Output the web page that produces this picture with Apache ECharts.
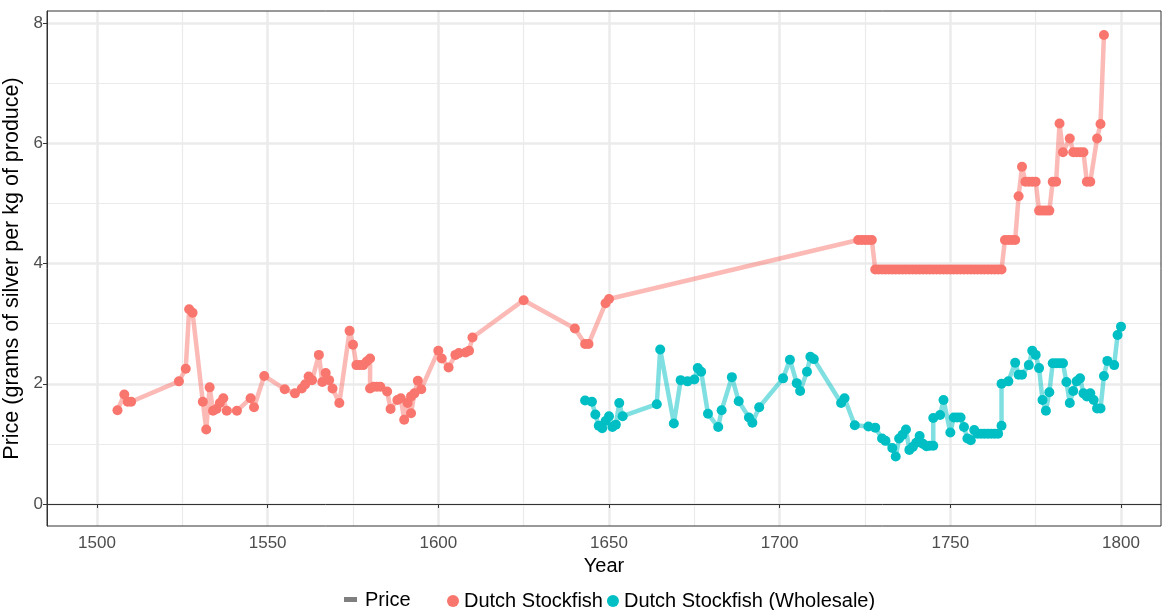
<!DOCTYPE html>
<html>
<head>
<meta charset="utf-8">
<script src="https://cdn.jsdelivr.net/npm/echarts@6.0.0/dist/echarts.min.js"></script>
<style>
  html, body { margin: 0; padding: 0; background: #fff; }
  #chart { width: 1162px; height: 610px; }
</style>
</head>
<body>
<div id="chart"></div>
<script>
// Dutch Stockfish (retail) prices
const stockYears = [1506, 1508, 1509, 1510, 1524, 1526, 1527, 1528, 1531, 1532, 1533, 1534, 1535, 1536, 1537, 1538, 1541, 1545, 1546, 1549,
  1555, 1558, 1560, 1561, 1562, 1563, 1565, 1566, 1567, 1568, 1569, 1571, 1574, 1575, 1576, 1577, 1578, 1579, 1580, 1580,
  1581, 1582, 1583, 1585, 1586, 1588, 1589, 1590, 1591, 1592, 1592, 1593, 1594, 1595,
  1600, 1601, 1603, 1605, 1606, 1608, 1609, 1610, 1625, 1640, 1643, 1644, 1649, 1650,
  1723, 1724, 1725, 1726, 1727,
  1728, 1729, 1730, 1731, 1732, 1733, 1734, 1735, 1736, 1737, 1738, 1739, 1740, 1741, 1742, 1743, 1744, 1745, 1746,
  1747, 1748, 1749, 1750, 1751, 1752, 1753, 1754, 1755, 1756, 1757, 1758, 1759, 1760, 1761, 1762, 1763, 1764, 1765,
  1766, 1767, 1768, 1769, 1770, 1771, 1772, 1773, 1774, 1775, 1776, 1777, 1778, 1779, 1780, 1781, 1782, 1783,
  1785, 1786, 1787, 1788, 1789, 1790, 1791, 1793, 1794, 1795];
const stockPrices = [1.56, 1.82, 1.70, 1.70, 2.04, 2.25, 3.24, 3.18, 1.70, 1.24, 1.94, 1.55, 1.58, 1.68, 1.76, 1.55, 1.55, 1.76, 1.61, 2.13,
  1.91, 1.84, 1.92, 1.99, 2.12, 2.06, 2.48, 2.03, 2.18, 2.06, 1.92, 1.68, 2.88, 2.65, 2.31, 2.31, 2.31, 2.37, 2.42, 1.92,
  1.95, 1.95, 1.95, 1.87, 1.58, 1.73, 1.76, 1.40, 1.68, 1.79, 1.51, 1.84, 2.05, 1.91,
  2.55, 2.42, 2.27, 2.48, 2.51, 2.52, 2.55, 2.77, 3.39, 2.92, 2.66, 2.66, 3.34, 3.41,
  4.39, 4.39, 4.39, 4.39, 4.39,
  3.90, 3.90, 3.90, 3.90, 3.90, 3.90, 3.90, 3.90, 3.90, 3.90, 3.90, 3.90, 3.90, 3.90, 3.90, 3.90, 3.90, 3.90, 3.90,
  3.90, 3.90, 3.90, 3.90, 3.90, 3.90, 3.90, 3.90, 3.90, 3.90, 3.90, 3.90, 3.90, 3.90, 3.90, 3.90, 3.90, 3.90, 3.90,
  4.39, 4.39, 4.39, 4.39, 5.12, 5.61, 5.36, 5.36, 5.36, 5.36, 4.88, 4.88, 4.88, 4.88, 5.36, 5.36, 6.33, 5.85,
  6.08, 5.85, 5.85, 5.85, 5.85, 5.36, 5.36, 6.08, 6.32, 7.80];

// Dutch Stockfish (wholesale) prices
const wholesaleYears = [1643, 1645, 1646, 1647, 1648, 1649, 1650, 1651, 1652, 1653, 1654, 1664, 1665, 1669, 1671, 1673, 1675, 1676, 1677, 1679,
  1682, 1683, 1686, 1688, 1691, 1692, 1694, 1701, 1703, 1705, 1706, 1708, 1709, 1710, 1718, 1719, 1722, 1726, 1728, 1730,
  1731, 1733, 1734, 1735, 1736, 1737, 1738, 1739, 1740, 1741, 1742, 1743, 1744, 1745, 1745, 1747, 1748, 1750, 1751, 1752,
  1753, 1754, 1755, 1756, 1757, 1758, 1759, 1760, 1761, 1762, 1763, 1764, 1765, 1765, 1767, 1769, 1770, 1771, 1773, 1774,
  1775, 1776, 1777, 1778, 1779, 1780, 1781, 1782, 1783, 1784, 1785, 1786, 1787, 1788, 1789, 1790, 1791, 1792, 1793, 1794,
  1795, 1796, 1798, 1799, 1800];
const wholesalePrices = [1.72, 1.70, 1.49, 1.30, 1.26, 1.38, 1.46, 1.28, 1.32, 1.68, 1.46, 1.66, 2.57, 1.34, 2.06, 2.04, 2.07, 2.26, 2.20, 1.50,
  1.28, 1.56, 2.11, 1.71, 1.44, 1.35, 1.61, 2.09, 2.40, 2.01, 1.88, 2.20, 2.45, 2.41, 1.68, 1.76, 1.31, 1.29, 1.27, 1.09,
  1.05, 0.93, 0.79, 1.09, 1.15, 1.24, 0.90, 0.95, 1.02, 1.13, 1.00, 0.96, 0.97, 0.97, 1.43, 1.48, 1.73, 1.19, 1.44, 1.44,
  1.44, 1.28, 1.09, 1.06, 1.23, 1.17, 1.17, 1.17, 1.17, 1.17, 1.17, 1.17, 1.30, 2.00, 2.04, 2.35, 2.15, 2.15, 2.31, 2.55,
  2.48, 2.26, 1.73, 1.55, 1.86, 2.34, 2.34, 2.34, 2.34, 2.03, 1.68, 1.88, 2.04, 2.09, 1.84, 1.79, 1.84, 1.73, 1.59, 1.59,
  2.13, 2.38, 2.31, 2.81, 2.95];

const majorYears = [1500, 1550, 1600, 1650, 1700, 1750, 1800];
const minorYears = [1525, 1575, 1625, 1675, 1725, 1775];
const majorPrices = [0, 2, 4, 6, 8];
const minorPrices = [1, 3, 5, 7];

const RED = '#F8766D';
const TEAL = '#00BFC4';
const FONT = '"Liberation Sans", Arial, sans-serif';

function zip(xs, ys) {
  return xs.map((x, i) => [x, ys[i]]);
}

function lineSeries(name, color, data) {
  return {
    name: name,
    type: 'line',
    data: data,
    symbol: 'circle',
    symbolSize: 10,
    showSymbol: true,
    itemStyle: { color: color, opacity: 1 },
    lineStyle: { color: color, width: 4.5, opacity: 0.5 },
    emphasis: { disabled: true },
    z: 3
  };
}

const xRange = [1485.35, 1811.72];
const yRange = [-0.366, 8.2];

const chart = echarts.init(document.getElementById('chart'), null, { renderer: 'canvas' });
const option = {
  animation: false,
  backgroundColor: '#ffffff',
  textStyle: { fontFamily: FONT },
  grid: {
    left: 47, right: 1, top: 11, bottom: 84,
    outerBoundsMode: 'none',
    containLabel: false,
    show: true, borderColor: '#333333', borderWidth: 1, backgroundColor: 'transparent', z: 4
  },
  xAxis: [
    {
      type: 'value', min: xRange[0], max: xRange[1],
      name: 'Year', nameLocation: 'middle', nameGap: 28,
      nameTextStyle: { fontSize: 20, color: '#000', fontFamily: FONT },
      axisLine: { show: true, lineStyle: { color: '#333333', width: 1 } },
      axisTick: { show: true, length: 4, customValues: majorYears, lineStyle: { color: '#333333' } },
      axisLabel: { customValues: majorYears, fontSize: 17, color: '#4D4D4D', margin: 9, fontFamily: FONT,
        formatter: v => String(v) },
      splitLine: { show: true, lineStyle: { color: '#EBEBEB', width: 2.5 } }
    },
    {
      type: 'value', min: xRange[0], max: xRange[1], position: 'bottom',
      axisLine: { show: false },
      axisTick: { show: false, customValues: minorYears },
      axisLabel: { show: false, customValues: minorYears },
      splitLine: { show: true, lineStyle: { color: '#EBEBEB', width: 1.2 } }
    }
  ],
  yAxis: [
    {
      type: 'value', min: yRange[0], max: yRange[1],
      name: 'Price (grams of silver per kg of produce)', nameLocation: 'middle', nameGap: 16,
      nameTextStyle: { fontSize: 21.5, color: '#000', fontFamily: FONT },
      axisLine: { show: true, lineStyle: { color: '#333333', width: 1 } },
      axisTick: { show: true, length: 4, customValues: majorPrices, lineStyle: { color: '#333333' } },
      axisLabel: { customValues: majorPrices, fontSize: 17, color: '#4D4D4D', margin: 4, fontFamily: FONT },
      splitLine: { show: true, lineStyle: { color: '#EBEBEB', width: 2.5 } }
    },
    {
      type: 'value', min: yRange[0], max: yRange[1], position: 'left',
      axisLine: { show: false },
      axisTick: { show: false, customValues: minorPrices },
      axisLabel: { show: false, customValues: minorPrices },
      splitLine: { show: true, lineStyle: { color: '#EBEBEB', width: 1.2 } }
    }
  ],
  legend: {
    left: 442, top: 586,
    itemWidth: 12, itemHeight: 12, itemGap: 4,
    icon: 'circle',
    textStyle: { fontSize: 20, color: '#000', fontFamily: FONT },
    data: ['Dutch Stockfish', 'Dutch Stockfish (Wholesale)']
  },
  graphic: [
    { type: 'rect', left: 344, top: 597, shape: { width: 13, height: 5 }, style: { fill: '#7F7F7F' } },
    { type: 'text', left: 365, top: 590, style: { text: 'Price', fontSize: 20, fill: '#000', font: '20px ' + FONT } }
  ],
  series: [
    lineSeries('Dutch Stockfish', RED, zip(stockYears, stockPrices)),
    lineSeries('Dutch Stockfish (Wholesale)', TEAL, zip(wholesaleYears, wholesalePrices))
  ]
};
chart.setOption(option);
</script>
</body>
</html>
